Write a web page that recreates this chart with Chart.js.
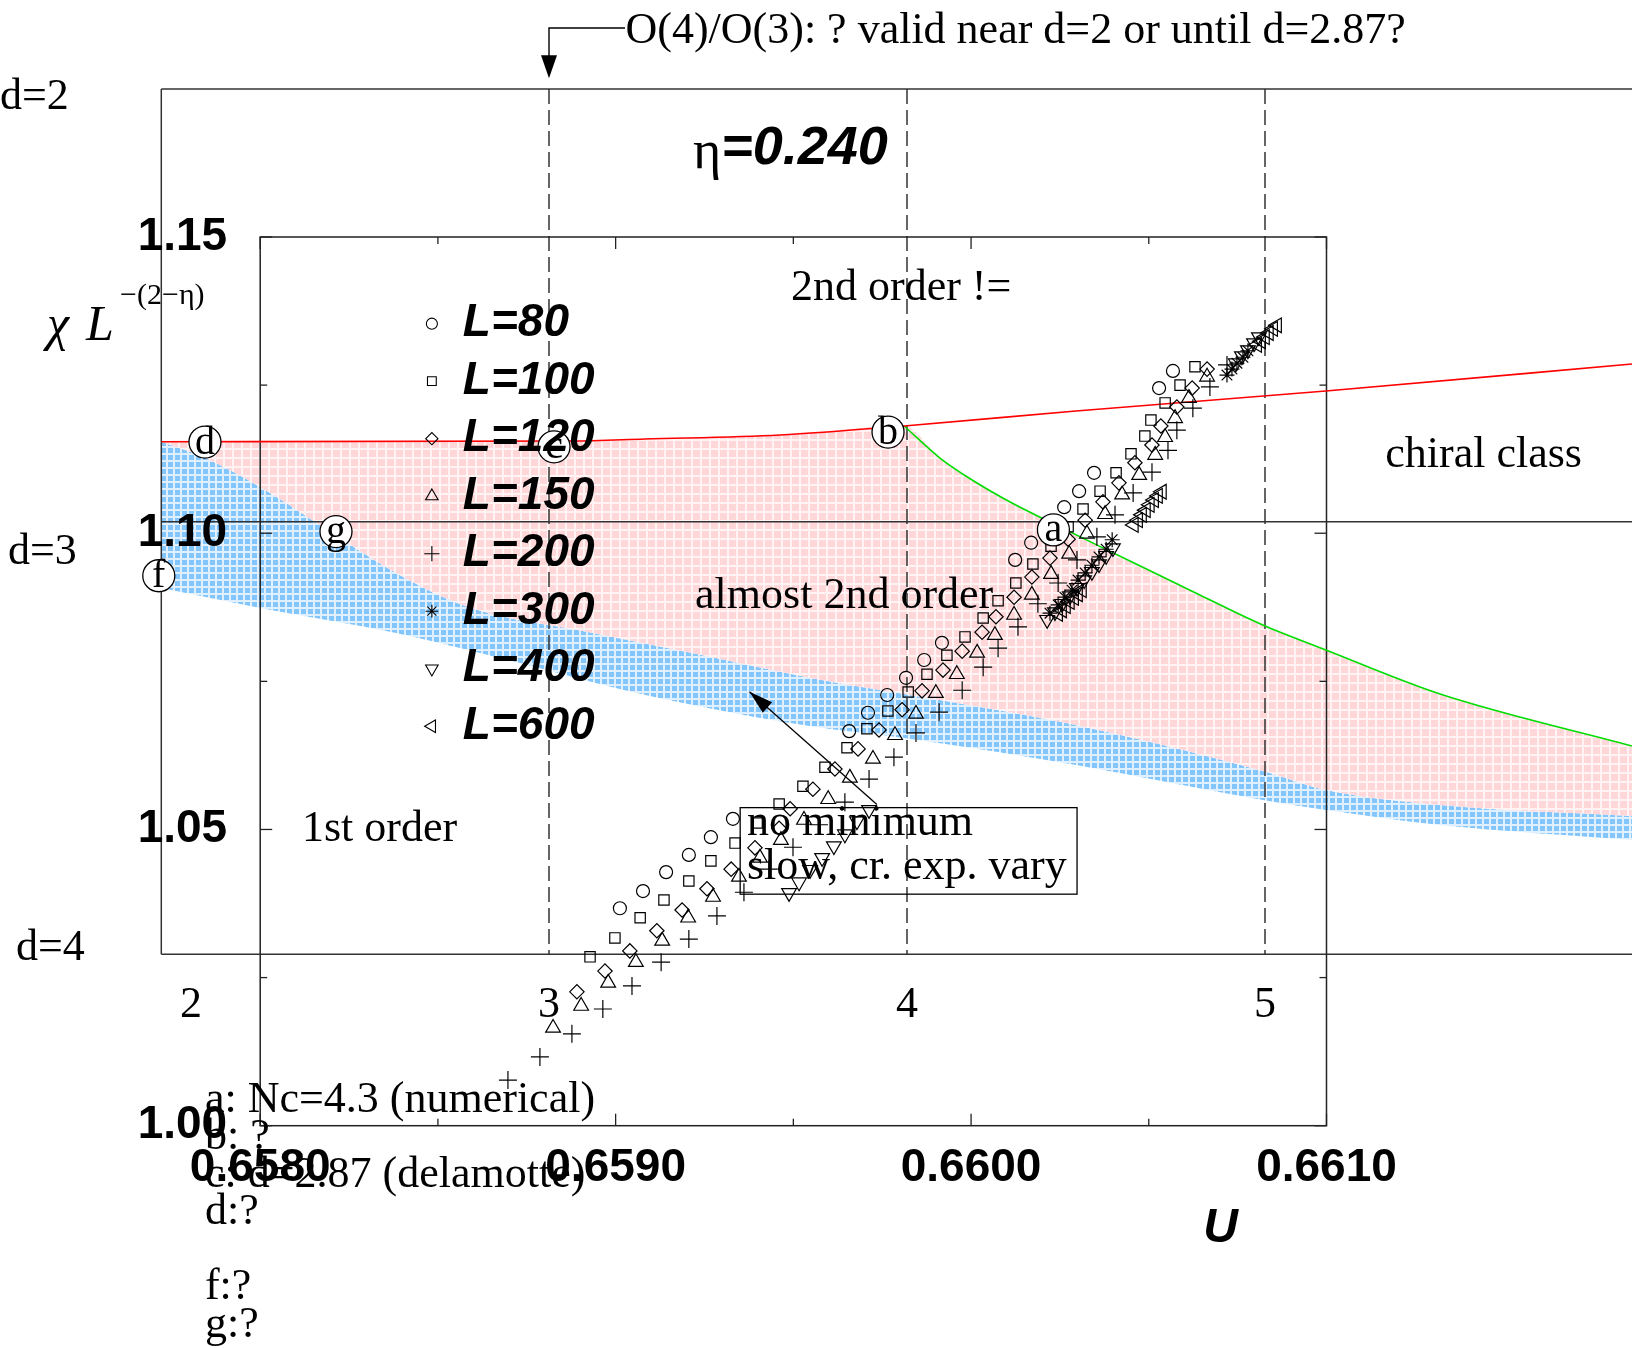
<!DOCTYPE html>
<html>
<head>
<meta charset="utf-8">
<script src="https://cdn.jsdelivr.net/npm/chart.js"></script>
<style>
  html, body { margin: 0; padding: 0; background: #fff; }
  #wrap { width: 1632px; height: 1348px; }
</style>
</head>
<body>
<div id="wrap"><canvas id="myChart" width="1632" height="1348"></canvas></div>
<script>
// ---- data ----
const seriesNames = ['L=80', 'L=100', 'L=120', 'L=150', 'L=200', 'L=300', 'L=400', 'L=600'];

// [U, chi L^-(2-eta)]
const L80 = [
  [0.659012,1.0367],[0.659077,1.0396],[0.659142,1.0428],[0.659206,1.0457],[0.659268,1.0487],[0.659330,1.0518],
  [0.659657,1.0666],[0.659710,1.0697],[0.659764,1.0727],[0.659817,1.0756],[0.659868,1.0786],[0.659918,1.0815],
  [0.660124,1.0955],[0.660169,1.0984],[0.660217,1.1012],[0.660262,1.1044],[0.660304,1.1071],[0.660346,1.1102],
  [0.660529,1.1245],[0.660568,1.1274]
];
const L100 = [
  [0.658928,1.0285],[0.658998,1.0317],[0.659069,1.0351],[0.659136,1.0381],[0.659206,1.0413],[0.659268,1.0447],
  [0.659336,1.0477],[0.659398,1.0511],[0.659460,1.0543],[0.659527,1.0573],[0.659589,1.0605],[0.659651,1.0638],
  [0.659707,1.0670],[0.659766,1.0700],[0.659823,1.0732],[0.659876,1.0762],[0.659932,1.0794],[0.659983,1.0825],
  [0.660034,1.0857],[0.660076,1.0886],[0.660126,1.0916],[0.660174,1.0948],[0.660225,1.0978],[0.660273,1.1011],
  [0.660315,1.1041],[0.660363,1.1071],[0.660408,1.1102],[0.660450,1.1134],[0.660489,1.1164],[0.660506,1.1191],
  [0.660546,1.1220],[0.660588,1.1250],[0.660630,1.1281]
];
const L120 = [
  [0.658891,1.0226],[0.658970,1.0261],[0.659040,1.0295],[0.659116,1.0329],[0.659187,1.0364],[0.659257,1.0400],
  [0.659325,1.0433],[0.659392,1.0469],[0.659460,1.0502],[0.659491,1.0535],[0.659555,1.0568],[0.659617,1.0602],
  [0.659682,1.0636],[0.659741,1.0668],[0.659806,1.0702],[0.659862,1.0734],[0.659921,1.0769],[0.659975,1.0801],
  [0.660031,1.0833],[0.660070,1.0859],[0.660121,1.0892],[0.660171,1.0926],[0.660222,1.0958],[0.660273,1.0990],
  [0.660321,1.1022],[0.660371,1.1053],[0.660416,1.1085],[0.660461,1.1119],[0.660509,1.1149],[0.660534,1.1181],
  [0.660579,1.1213],[0.660622,1.1245],[0.660664,1.1277]
];
const L150 = [
  [0.658824,1.0165],[0.658903,1.0202],[0.658979,1.0241],[0.659057,1.0276],[0.659131,1.0312],[0.659204,1.0351],
  [0.659274,1.0386],[0.659347,1.0420],[0.659406,1.0452],[0.659465,1.0482],[0.659530,1.0516],[0.659598,1.0551],
  [0.659659,1.0587],[0.659724,1.0619],[0.659786,1.0659],[0.659845,1.0695],[0.659901,1.0730],[0.659960,1.0762],
  [0.660017,1.0798],[0.660067,1.0828],[0.660121,1.0862],[0.660171,1.0896],[0.660225,1.0931],[0.660276,1.0965],
  [0.660326,1.0999],[0.660377,1.1032],[0.660425,1.1065],[0.660473,1.1098],[0.660518,1.1132],[0.660546,1.1162],
  [0.660574,1.1194],[0.660613,1.1228],[0.660664,1.1264]
];
const L200 = [
  [0.658697,1.0077],[0.658787,1.0116],[0.658877,1.0155],[0.658964,1.0197],[0.659046,1.0236],[0.659128,1.0276],
  [0.659206,1.0315],[0.659285,1.0354],[0.659361,1.0394],[0.659431,1.0433],[0.659499,1.0470],[0.659572,1.0508],
  [0.659645,1.0546],[0.659713,1.0585],[0.659783,1.0622],[0.659845,1.0663],[0.659910,1.0698],[0.659975,1.0735],
  [0.660034,1.0774],[0.660076,1.0806],[0.660132,1.0842],[0.660188,1.0881],[0.660245,1.0916],[0.660298,1.0955],
  [0.660354,1.0994],[0.660405,1.1031],[0.660456,1.1068],[0.660509,1.1103],[0.660554,1.1140],[0.660579,1.1174],
  [0.660624,1.1211],[0.660672,1.1247],[0.660720,1.1284]
];
const L300 = [
  [0.660222,1.0865],[0.660245,1.0879],[0.660264,1.0892],[0.660284,1.0904],[0.660301,1.0921],
  [0.660321,1.0933],[0.660340,1.0946],[0.660360,1.0960],[0.660380,1.0973],[0.660397,1.0989],
  [0.660720,1.1267],[0.660734,1.1277],[0.660748,1.1287],[0.660765,1.1297],[0.660779,1.1308]
];
const L400 = [
  [0.659488,1.0393],[0.659516,1.0411],[0.659547,1.0432],[0.659581,1.0452],[0.659614,1.0472],[0.659645,1.0492],
  [0.659679,1.0514],[0.659713,1.0533],
  [0.660214,1.0854],[0.660236,1.0867],[0.660256,1.0881],[0.660278,1.0894],[0.660298,1.0908],[0.660318,1.0921],
  [0.660340,1.0935],[0.660360,1.0948],[0.660380,1.0962],[0.660399,1.0975],
  [0.660745,1.1287],[0.660762,1.1299],[0.660779,1.1309],[0.660796,1.1321],[0.660810,1.1331]
];
const L600 = [
  [0.660245,1.0864],[0.660256,1.0870],[0.660267,1.0877],[0.660278,1.0884],[0.660290,1.0891],[0.660301,1.0897],
  [0.660312,1.0904],
  [0.660458,1.1014],[0.660470,1.1022],[0.660481,1.1031],[0.660492,1.1039],[0.660503,1.1048],[0.660515,1.1056],
  [0.660526,1.1063],[0.660537,1.1070],
  [0.660805,1.1318],[0.660816,1.1324],[0.660827,1.1331],[0.660838,1.1338],[0.660850,1.1345],[0.660861,1.1351]
];
const seriesData = [L80, L100, L120, L150, L200, L300, L400, L600];

// outer diagram, [N, d]
const redLine = [[1.917,2.8152],[3.064,2.8136],[3.268,2.8090],[3.645,2.7997],[3.992,2.7789],[4.472,2.7443],[5.170,2.6980],[6.025,2.6356]];
const greenLine = [[3.992,2.7789],[4.092,2.8529],[4.182,2.9037],[4.288,2.9546],[4.399,3.0008],[4.617,3.0886],
  [4.818,3.1695],[4.994,3.2389],[5.170,3.2967],[5.489,3.3984],[6.025,3.5186]];
const blueTop = [[1.917,2.8152],[2.034,2.8506],[2.193,2.9199],[2.369,3.0124],[2.573,3.1187],[2.774,3.1973],[3.123,3.2574],
  [3.399,3.3036],[3.746,3.3637],[3.992,3.3984],[4.472,3.4700],[4.994,3.5763],[5.170,3.6203],[5.489,3.6549],[6.025,3.6803]];
const blueBottom = [[1.917,3.1534],[2.193,3.1996],[2.573,3.2574],[2.919,3.3267],[3.209,3.3891],[3.575,3.4515],[3.746,3.4746],
  [3.992,3.5000],[4.472,3.5625],[4.994,3.6434],[5.170,3.6665],[5.489,3.7011],[6.025,3.7358]];
const bPointN = 3.992;

const uTicks = [0.658, 0.659, 0.660, 0.661];
const chiTicks = [1.00, 1.05, 1.10, 1.15];
const nTicks = [2, 3, 4, 5];
const dashedN = [3, 4, 5];
const dLabels = ['d=2', 'd=3', 'd=4'];
const notesText = ['a: Nc=4.3 (numerical)', 'b: ?', 'c: d=2.87 (delamotte)', 'd:?', '', 'f:?', 'g:?'];

// ---- styles ----
const markerStyles = [
  { style: 'circle', r: 6.5, rot: 0 },
  { style: 'rect', r: 7.3, rot: 0 },
  { style: 'rectRot', r: 7.2, rot: 0 },
  { style: 'triangle', r: 8.5, rot: 0 },
  { style: 'cross', r: 9, rot: 0 },
  { style: 'star', r: 7.5, rot: 0 },
  { style: 'triangle', r: 8.5, rot: 180 },
  { style: 'triangle', r: 8.5, rot: 270 }
];
const SERIF = '"Liberation Serif", "DejaVu Serif", serif';
const SANS = '"Liberation Sans", Arial, sans-serif';

const chartEl = document.getElementById('myChart');
const ctx = chartEl.getContext('2d');

function gridPattern(cell, line, fill, lineColor) {
  const c = document.createElement('canvas');
  c.width = cell; c.height = cell;
  const g = c.getContext('2d');
  g.fillStyle = lineColor;
  g.fillRect(0, 0, cell, cell);
  g.fillStyle = fill;
  g.fillRect(0, 0, cell - line, cell - line);
  return ctx.createPattern(c, 'repeat');
}
const pinkFill = gridPattern(9, 2, '#ffd7d9', '#fff3f3');
const blueFill = gridPattern(7, 2, '#82c6fd', '#e0f0ff');

const toXY = arr => arr.map(p => ({ x: p[0], y: p[1] }));

const markerSets = seriesNames.map((name, i) => ({
  label: name,
  data: toXY(seriesData[i]),
  xAxisID: 'x', yAxisID: 'y',
  showLine: false,
  pointStyle: markerStyles[i].style,
  pointRadius: markerStyles[i].r,
  pointRotation: markerStyles[i].rot,
  pointBorderColor: '#000',
  pointBackgroundColor: 'rgba(0,0,0,0)',
  pointBorderWidth: 1.2
}));

const pinkTop = redLine.filter(p => p[0] <= bPointN).concat(greenLine.slice(1));
const outerLine = (data, extra) => Object.assign({
  type: 'line', data: toXY(data), xAxisID: 'xN', yAxisID: 'yD',
  pointRadius: 0, cubicInterpolationMode: 'monotone', fill: false,
  borderColor: 'rgba(0,0,0,0)', borderWidth: 1
}, extra);

const datasets = markerSets.concat([
  outerLine(redLine, { label: 'red', borderColor: '#ff0000', borderWidth: 1.6 }),
  outerLine(greenLine, { label: 'green', borderColor: '#00dd00', borderWidth: 1.6 }),
  outerLine(pinkTop, { label: 'pink', fill: '+1', backgroundColor: pinkFill }),
  outerLine(blueTop, { label: 'blueTop', fill: '+1', backgroundColor: blueFill }),
  outerLine(blueBottom, { label: 'blueBottom' })
]);
const PINK_INDEX = markerSets.length + 2;

function line(c, x0, y0, x1, y1) {
  c.beginPath(); c.moveTo(x0, y0); c.lineTo(x1, y1); c.stroke();
}
function arrowHead(c, x0, y0, x1, y1, len, half) {
  const a = Math.atan2(y1 - y0, x1 - x0);
  const bx = x1 - len * Math.cos(a), by = y1 - len * Math.sin(a);
  c.beginPath();
  c.moveTo(x1, y1);
  c.lineTo(bx + half * Math.sin(a), by - half * Math.cos(a));
  c.lineTo(bx - half * Math.sin(a), by + half * Math.cos(a));
  c.closePath(); c.fill();
}
function text(c, s, x, y, font, align) {
  c.font = font; c.textAlign = align || 'left'; c.textBaseline = 'middle';
  c.fillText(s, x, y);
}

// frames, reference lines and ticks: drawn over the filled bands, under the markers
const framePlugin = {
  id: 'frames',
  afterDatasetDraw(chart, args) {
    if (args.index !== PINK_INDEX) return;
    const c = chart.ctx;
    const { x, y, xN, yD } = chart.scales;
    c.save();
    c.strokeStyle = '#333';
    c.lineWidth = 1.5;
    const oL = xN.getPixelForValue(xN.min), oR = chart.width;
    const oT = yD.getPixelForValue(2), oB = yD.getPixelForValue(4);
    line(c, oL, oT, oR, oT);
    line(c, oL, oT, oL, oB);
    line(c, oL, oB, oR, oB);
    line(c, oL, yD.getPixelForValue(3), oR, yD.getPixelForValue(3));
    c.setLineDash([15, 6]);
    dashedN.forEach(n => {
      const px = xN.getPixelForValue(n);
      line(c, px, oT, px, oB);
    });
    c.setLineDash([]);

    // inner box
    c.strokeStyle = '#222';
    const iL = x.getPixelForValue(0.658), iR = x.getPixelForValue(0.661);
    const iT = y.getPixelForValue(1.15), iB = y.getPixelForValue(1.00);
    c.strokeRect(iL, iT, iR - iL, iB - iT);
    c.lineWidth = 1.3;
    uTicks.forEach((u, k) => {
      let px = x.getPixelForValue(u);
      line(c, px, iB, px, iB - 12); line(c, px, iT, px, iT + 12);
      if (k < uTicks.length - 1) {
        px = x.getPixelForValue(u + 0.0005);
        line(c, px, iB, px, iB - 7); line(c, px, iT, px, iT + 7);
      }
    });
    chiTicks.forEach((v, k) => {
      let py = y.getPixelForValue(v);
      line(c, iL, py, iL + 12, py); line(c, iR, py, iR - 12, py);
      if (k < chiTicks.length - 1) {
        py = y.getPixelForValue(v + 0.025);
        line(c, iL, py, iL + 7, py); line(c, iR, py, iR - 7, py);
      }
    });
    c.restore();
  },

  afterDraw(chart) {
    const c = chart.ctx;
    const { x, y, xN, yD } = chart.scales;
    const P = (n, d) => [xN.getPixelForValue(n), yD.getPixelForValue(d)];
    c.save();
    c.fillStyle = '#000';
    c.strokeStyle = '#000';

    // circled point labels
    [['d', 2.039, 2.816], ['c', 3.014, 2.827], ['b', 3.947, 2.793], ['a', 4.409, 3.019],
     ['g', 2.405, 3.023], ['f', 1.910, 3.125]].forEach(([s, n, d]) => {
      const [px, py] = P(n, d);
      c.beginPath(); c.arc(px, py, 16, 0, Math.PI * 2);
      c.fillStyle = '#fff'; c.fill();
      c.lineWidth = 1.3; c.stroke();
      c.fillStyle = '#000';
      text(c, s, px, py + 1, '40px ' + SERIF, 'center');
    });

    // legend
    const lx = x.getPixelForValue(0.658483), ly = y.getPixelForValue(1.13537);
    seriesNames.forEach((name, i) => {
      const yy = ly + i * 57.5;
      c.lineWidth = 1.1;
      c.strokeStyle = '#000';
      c.fillStyle = 'rgba(0,0,0,0)';
      Chart.helpers.drawPoint(c, { pointStyle: markerStyles[i].style, radius: markerStyles[i].r * 0.85,
        rotation: markerStyles[i].rot, borderWidth: 1.1 }, lx, yy);
      c.fillStyle = '#000';
      text(c, name, lx + 31, yy, 'italic bold 46px ' + SANS);
    });

    // inner axis labels
    chiTicks.forEach(v => text(c, v.toFixed(2), x.getPixelForValue(0.658) - 33, y.getPixelForValue(v),
      'bold 46px ' + SANS, 'right'));
    uTicks.forEach(u => text(c, u.toFixed(4), x.getPixelForValue(u), y.getPixelForValue(1.0) + 43,
      'bold 46px ' + SANS, 'center'));
    text(c, 'U', x.getPixelForValue(0.661) - 106, y.getPixelForValue(1.0) + 103, 'italic bold 48px ' + SANS, 'center');

    // y title
    let [tx, ty] = P(1.598, 2.580);
    c.textBaseline = 'alphabetic'; c.textAlign = 'left';
    c.font = 'italic 50px ' + SERIF;
    c.fillText('\u03c7', tx, ty);
    c.fillText('L', tx + 39, ty);
    c.font = '30px ' + SERIF;
    c.fillText('\u2212(2\u2212\u03b7)', tx + 73, ty - 36);

    // outer axis labels
    nTicks.forEach(n => text(c, String(n), xN.getPixelForValue(n), yD.getPixelForValue(4) + 51, '44px ' + SERIF, 'center'));
    [[1.4665, 2.0185], [1.4888, 3.0701], [1.511, 3.9854]].forEach((p, i) => {
      const [px, py] = P(p[0], p[1]);
      text(c, dLabels[i], px, py, '44px ' + SERIF);
    });

    // region names
    [['2nd order !=', 3.676, 2.4607], ['chiral class', 5.336, 2.848], ['almost 2nd order', 3.408, 3.173],
     ['1st order', 2.310, 3.712]].forEach(([s, n, d]) => {
      const [px, py] = P(n, d);
      text(c, s, px, py, '44px ' + SERIF);
    });

    // eta
    [tx, ty] = P(3.402, 2.1383);
    c.font = '54px ' + SERIF;
    const ew = c.measureText('\u03b7').width;
    text(c, '\u03b7', tx, ty + 5, '54px ' + SERIF);
    text(c, '=0.240', tx + ew, ty, 'italic bold 54px ' + SANS);

    // top annotation with arrow to N=3
    const [ax0, ay0] = P(3.2123, 1.859);
    const ax1 = xN.getPixelForValue(3), ay1 = yD.getPixelForValue(1.975);
    c.lineWidth = 1.4;
    c.beginPath(); c.moveTo(ax0, ay0); c.lineTo(ax1, ay0); c.lineTo(ax1, ay1 - 20); c.stroke();
    arrowHead(c, ax1, ay0, ax1, ay1, 23, 8);
    [tx, ty] = P(3.2137, 1.8664);
    text(c, 'O(4)/O(3): ? valid near d=2 or until d=2.87?', tx, ty, '44px ' + SERIF);

    // "no minimum" box and arrow
    const [b0x, b0y] = P(3.534, 3.661), [b1x, b1y] = P(4.475, 3.861);
    c.lineWidth = 1.3;
    c.strokeRect(b0x, b0y, b1x - b0x, b1y - b0y);
    [tx, ty] = P(3.553, 3.697);
    text(c, 'no minimum', tx, ty, '44px ' + SERIF);
    text(c, 'slow, cr. exp. vary', tx, ty + 44, '44px ' + SERIF);
    const [s0x, s0y] = P(3.916, 3.6538), [s1x, s1y] = P(3.560, 3.393);
    line(c, s0x, s0y, s1x, s1y);
    arrowHead(c, s0x, s0y, s1x, s1y, 24, 7);

    // bottom notes
    [tx, ty] = P(2.039, 4.3368);
    notesText.forEach((s, i) => { if (s) text(c, s, tx, ty + i * 37.5, '44px ' + SERIF); });
    c.restore();
  }
};

new Chart(ctx, {
  type: 'scatter',
  data: { datasets: datasets },
  options: {
    responsive: false,
    animation: false,
    devicePixelRatio: 1,
    events: [],
    layout: { autoPadding: false, padding: { left: 161.3, top: 89, right: 0, bottom: 222.3 } },
    plugins: { legend: { display: false }, tooltip: { enabled: false } },
    scales: {
      x: { type: 'linear', min: 0.65772175, max: 0.66185952, display: false },
      y: { type: 'linear', min: 1.00, max: 1.17498, display: false },
      xN: { type: 'linear', axis: 'x', min: 1.91704, max: 6.02514, display: false },
      yD: { type: 'linear', axis: 'y', min: 2, max: 4.39616, reverse: true, display: false }
    }
  },
  plugins: [framePlugin]
});
</script>
</body>
</html>
